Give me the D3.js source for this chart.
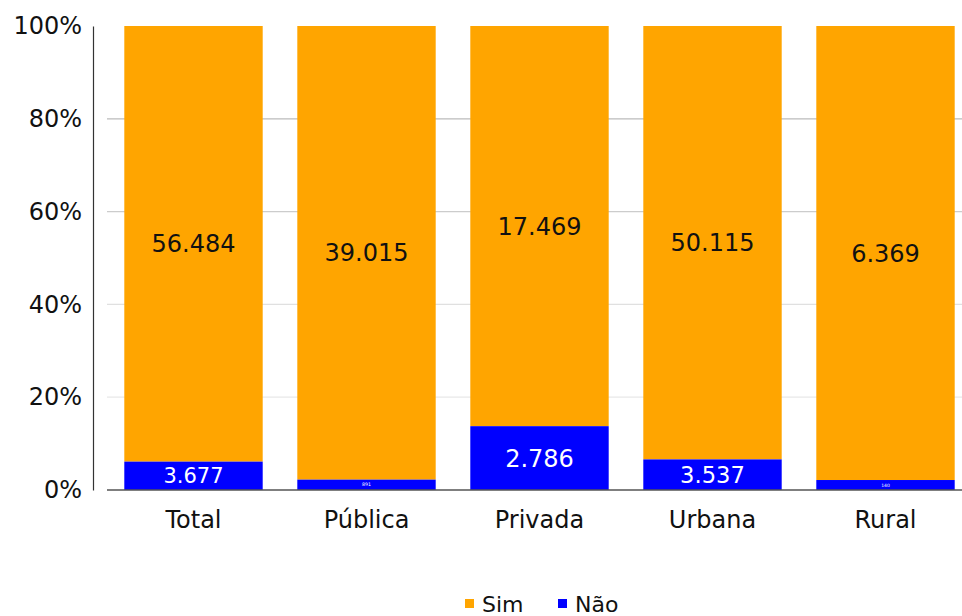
<!DOCTYPE html>
<html>
<head>
<meta charset="utf-8">
<script src="https://cdn.jsdelivr.net/npm/d3@7"></script>
<style>
  body { margin: 0; background: #fff; }
  text { font-family: "DejaVu Sans", Verdana, sans-serif; }
</style>
</head>
<body>
<div id="chart"></div>
<script>
var categories = ["Total", "Pública", "Privada", "Urbana", "Rural"];
var simValues = [56484, 39015, 17469, 50115, 6369];
var naoValues = [3677, 891, 2786, 3537, 140];
var seriesNames = ["Sim", "Não"];
var seriesColors = ["#ffa500", "#0000ff"];
var yTicks = [0, 0.2, 0.4, 0.6, 0.8, 1];

var svgWidth = 962, svgHeight = 616;
var svg = d3.select("#chart").append("svg")
    .attr("width", svgWidth)
    .attr("height", svgHeight);

var fmt = d3.formatLocale({decimal: ",", thousands: ".", grouping: [3], currency: ["", ""]}).format(",d");

var x = d3.scaleBand().domain(categories).range([107, 972]).paddingInner(0.2).paddingOuter(0.1);
var y = d3.scaleLinear().domain([0, 1]).range([490, 26]);

// gridlines
var gridColors = {0.2: "#e8e8e8", 0.4: "#e0e0e0", 0.6: "#cccccc", 0.8: "#bbbbbb"};
svg.selectAll(".grid")
  .data(yTicks.filter(function(d) { return d > 0 && d < 1; }))
  .enter().append("line")
  .attr("x1", 107).attr("x2", svgWidth)
  .attr("y1", function(d) { return y(d); })
  .attr("y2", function(d) { return y(d); })
  .attr("stroke", function(d) { return gridColors[d]; })
  .attr("stroke-width", 1.2);

// data rows
var rows = categories.map(function(c, i) {
  var tot = simValues[i] + naoValues[i];
  return {cat: c, nao: naoValues[i], sim: simValues[i], pNao: naoValues[i] / tot};
});

var bars = svg.append("g");
rows.forEach(function(r) {
  // Sim (top)
  bars.append("rect")
    .attr("x", x(r.cat)).attr("width", x.bandwidth())
    .attr("y", y(1)).attr("height", y(r.pNao) - y(1))
    .attr("fill", seriesColors[0]);
  // Não (bottom)
  bars.append("rect")
    .attr("x", x(r.cat)).attr("width", x.bandwidth())
    .attr("y", y(r.pNao)).attr("height", y(0) - y(r.pNao))
    .attr("fill", seriesColors[1]);

  var cx = x(r.cat) + x.bandwidth() / 2;
  bars.append("text")
    .attr("x", cx)
    .attr("y", (y(1) + y(r.pNao)) / 2)
    .attr("dy", "0.36em")
    .attr("text-anchor", "middle")
    .attr("font-size", 24)
    .attr("fill", "#111")
    .text(fmt(r.sim));

  var h = y(0) - y(r.pNao);
  var fs = h >= 20 ? Math.min(24, h * 0.74) : h * 0.45;
  bars.append("text")
    .attr("x", cx)
    .attr("y", (y(r.pNao) + y(0)) / 2)
    .attr("dy", "0.36em")
    .attr("text-anchor", "middle")
    .attr("font-size", fs)
    .attr("fill", "#fff")
    .text(fmt(r.nao));
});

// baseline
svg.append("line")
  .attr("x1", 107).attr("x2", svgWidth)
  .attr("y1", y(0)).attr("y2", y(0))
  .attr("stroke", "#555").attr("stroke-width", 1.5);

// y axis
var yAxis = svg.append("g")
  .attr("transform", "translate(93,0)")
  .call(d3.axisLeft(y).tickValues(yTicks).tickSize(0).tickPadding(11)
    .tickFormat(d3.format(".0%")));
yAxis.select(".domain").attr("stroke", "#333").attr("stroke-width", 1.2);
yAxis.selectAll("text")
  .attr("font-size", 24)
  .attr("fill", "#111")
  .style("font-family", "DejaVu Sans, Verdana, sans-serif");

// x labels
var xAxis = svg.append("g")
  .attr("transform", "translate(0," + y(0) + ")")
  .call(d3.axisBottom(x).tickSize(0).tickPadding(21));
xAxis.select(".domain").remove();
xAxis.selectAll("text")
  .attr("font-size", 24)
  .attr("fill", "#111")
  .style("font-family", "DejaVu Sans, Verdana, sans-serif");

// legend
var legendX = [465, 558];
var legend = svg.selectAll(".legend")
  .data(seriesNames)
  .enter().append("g")
  .attr("transform", function(d, i) { return "translate(" + legendX[i] + ",0)"; });
legend.append("rect")
  .attr("x", 0).attr("y", 599)
  .attr("width", 9).attr("height", 9)
  .attr("fill", function(d, i) { return seriesColors[i]; });
legend.append("text")
  .attr("x", 17).attr("y", 612)
  .attr("font-size", 22)
  .attr("fill", "#111")
  .text(function(d) { return d; });
</script>
</body>
</html>
